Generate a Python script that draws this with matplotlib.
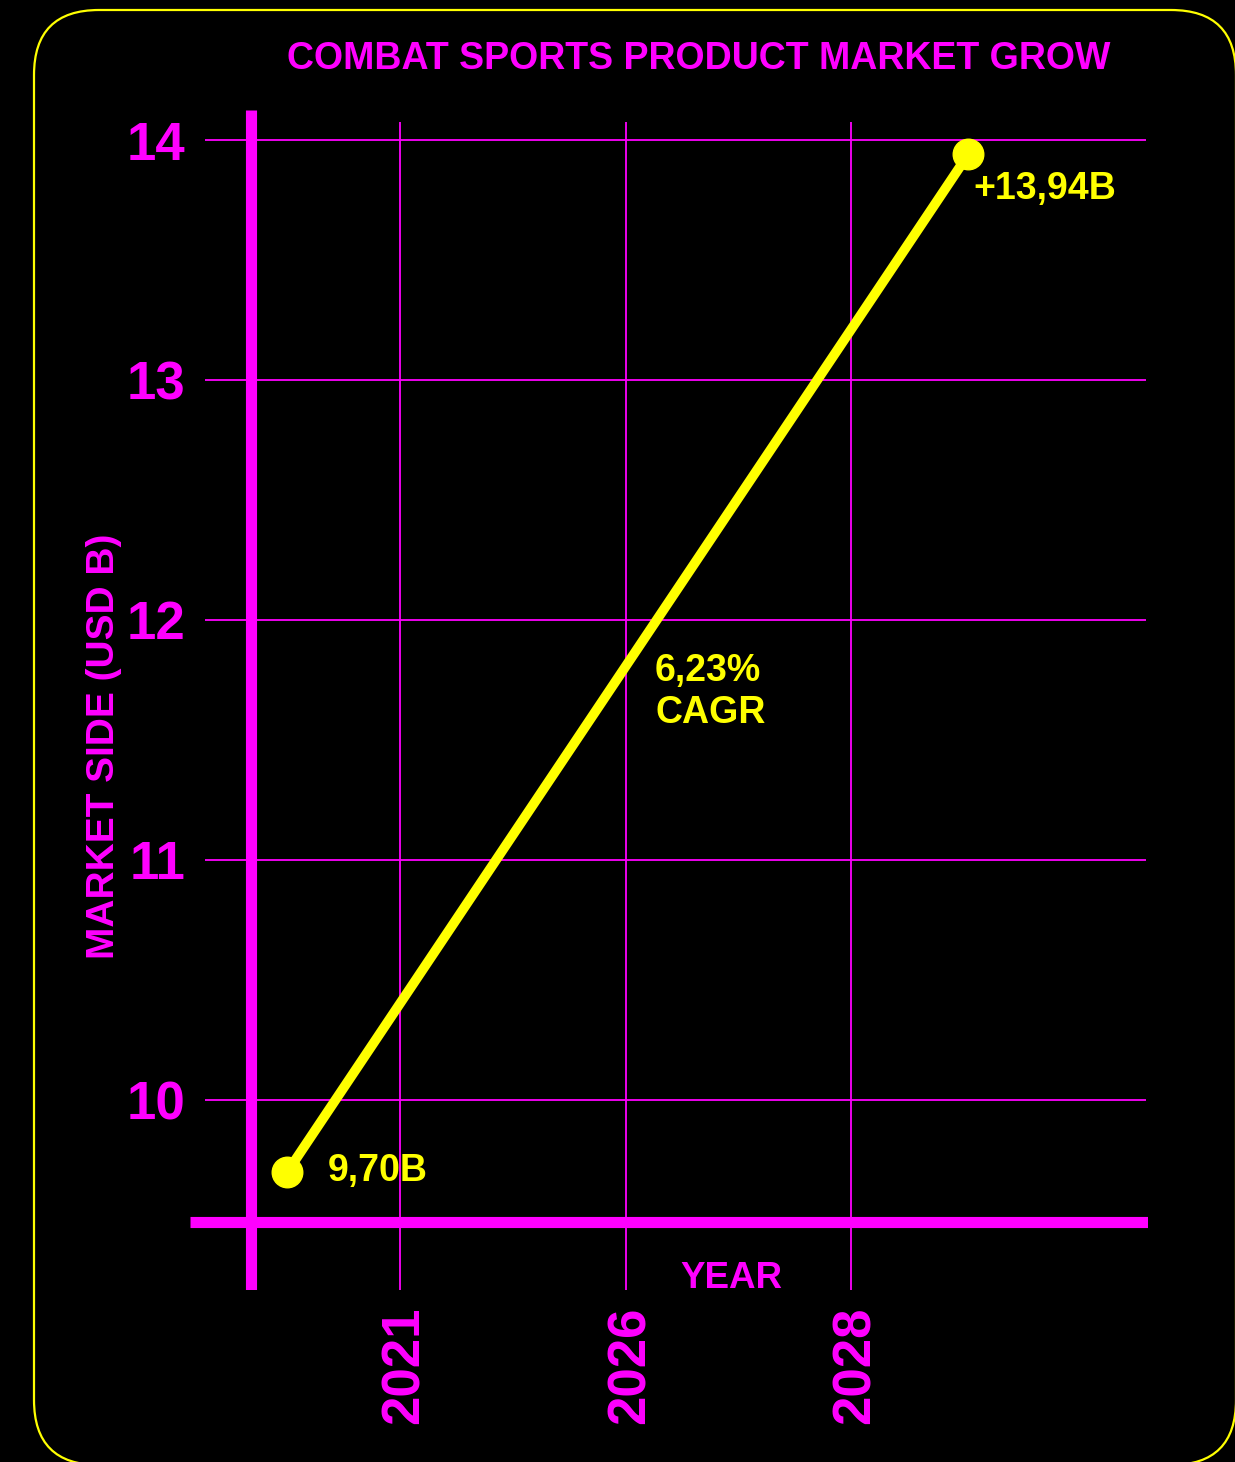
import matplotlib
matplotlib.use("Agg")
import matplotlib.pyplot as plt
import matplotlib.transforms as mtransforms
from matplotlib.patches import FancyBboxPatch

# data
year_labels = ["2021", "2026", "2028"]
year_pos = [1, 2, 3]
point_pos = [0.5, 3.52]
values = [9.70, 13.94]
value_labels = ["9,70B", "+13,94B"]
y_ticks = [10, 11, 12, 13, 14]
cagr_text = "6,23%\nCAGR"

MAGENTA = "#ff00ff"
YELLOW = "#ffff00"
plt.rcParams["font.family"] = ["Liberation Sans", "DejaVu Sans"]
plt.rcParams["font.weight"] = "bold"

fig = plt.figure(figsize=(12.35, 14.62), dpi=100)
fig.patch.set_facecolor("black")

# rounded yellow frame (in inches, figure is 100 dpi)
frame = FancyBboxPatch((0.34, -0.03), 12.02, 14.55,
                       boxstyle="round,pad=0,rounding_size=0.65",
                       transform=fig.dpi_scale_trans, facecolor="none",
                       edgecolor=YELLOW, linewidth=1.6, clip_on=False)
fig.add_artist(frame)

ax = fig.add_axes([0.15385, 0.11765, 0.7757, 0.80711])
ax.set_facecolor("black")
x_lo, x_hi = 0.0687, 4.317
y_lo, y_hi = 9.2083, 14.125
ax.set_xlim(x_lo, x_hi)
ax.set_ylim(y_lo, y_hi)
for s in ax.spines.values():
    s.set_visible(False)

# grid
ax.hlines(y_ticks, 0.135, 4.31, color=MAGENTA, lw=1.3, zorder=1)
ax.vlines(year_pos, y_lo, 14.075, color=MAGENTA, lw=1.3, zorder=1)
# thick axis lines
ax.vlines(0.34, y_lo, y_hi, color=MAGENTA, lw=8, zorder=2)
ax.hlines(9.4917, x_lo, x_hi, color=MAGENTA, lw=8, zorder=2)

ax.set_yticks(y_ticks)
ax.set_yticklabels([str(t) for t in y_ticks])
ax.set_xticks(year_pos)
ax.set_xticklabels(year_labels, rotation=90)
ax.tick_params(axis="y", length=0, pad=3.6, labelsize=38, labelcolor=MAGENTA)
ax.tick_params(axis="x", length=0, pad=12, labelsize=38, labelcolor=MAGENTA)
shift = mtransforms.ScaledTranslation(0.05, 0, fig.dpi_scale_trans)
for lab in ax.get_xticklabels():
    lab.set_transform(lab.get_transform() + shift)

ax.plot(point_pos, values, color=YELLOW, lw=7, marker="o", ms=22,
        solid_capstyle="round", zorder=5, clip_on=False)

ax.annotate(value_labels[0], (point_pos[0], values[0]), xytext=(40, -9),
            textcoords="offset pixels", color=YELLOW, fontsize=27,
            fontweight="bold", va="baseline", ha="left")
ax.annotate(value_labels[1], (point_pos[1], values[1]), xytext=(5, -45),
            textcoords="offset pixels", color=YELLOW, fontsize=27,
            fontweight="bold", va="baseline", ha="left")
ax.text(2.131, 11.70, cagr_text, color=YELLOW, fontsize=27, fontweight="bold",
        ha="left", va="center", linespacing=1.2)

fig.text(699 / 1235, 1 - 69 / 1462, "COMBAT SPORTS PRODUCT MARKET GROW",
         color=MAGENTA, fontsize=27, fontweight="bold", ha="center", va="baseline")
fig.text(104 / 1235, 1 - 746.5 / 1462, "MARKET SIDE (USD B)", color=MAGENTA,
         fontsize=28, fontweight="bold", rotation=90, ha="center", va="center")
fig.text(731.5 / 1235, 1 - 1288 / 1462, "YEAR", color=MAGENTA, fontsize=26.5,
         fontweight="bold", ha="center", va="baseline")

fig.savefig("out.png", dpi=100, facecolor="black")
